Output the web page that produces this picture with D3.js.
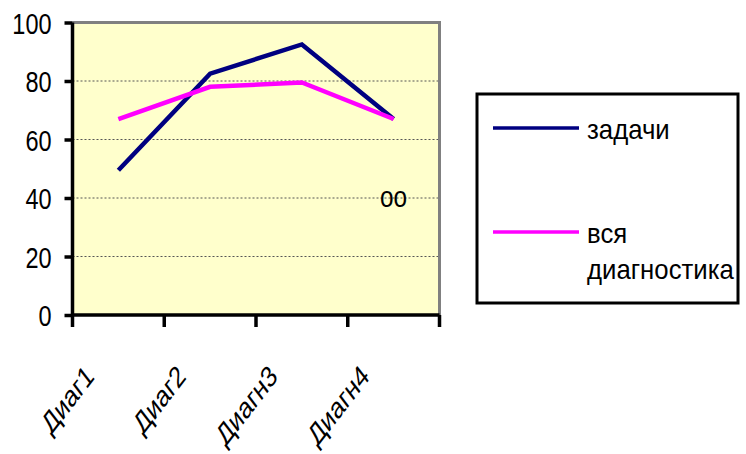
<!DOCTYPE html>
<html>
<head>
<meta charset="utf-8">
<script src="https://cdn.jsdelivr.net/npm/d3@7"></script>
<style>
  html, body { margin: 0; padding: 0; background: #fff; }
  svg { display: block; }
  text { font-family: "Liberation Sans", Arial, sans-serif; fill: #000; }
</style>
</head>
<body>
<svg id="chart" width="746" height="454"></svg>
<script>
// ---- data ----
const categories = ["Диаг1", "Диаг2", "Диагн3", "Диагн4"];
const seriesNames = ["задачи", "вся диагностика"];
const seriesTasks = [49.5, 82.5, 92.5, 67];
const seriesAll = [67, 78, 79.5, 67];
const yTicks = [0, 20, 40, 60, 80, 100];
const annotationText = "оо";
const annotationCategory = "Диагн4";
const annotationValue = 40;

const seriesColors = ["#000080", "#FF00FF"];
const seriesValues = [seriesTasks, seriesAll];

// ---- layout ----
const svg = d3.select("#chart");
const plot = { left: 72.5, right: 439.5, top: 22.5, bottom: 315 };
const kTick = 0.81, kLabel = 0.77, kLegend = 0.92, kNote = 0.84;

const x = d3.scaleBand().domain(categories).range([plot.left, plot.right]).padding(0);
const y = d3.scaleLinear().domain([0, 100]).range([plot.bottom, plot.top]);

// plot background
svg.append("rect")
  .attr("x", plot.left).attr("y", plot.top)
  .attr("width", plot.right - plot.left).attr("height", plot.bottom - plot.top)
  .attr("fill", "#FFFFCC");

// gridlines
svg.append("g").selectAll("line")
  .data(yTicks.filter(t => t > 0 && t < 100))
  .join("line")
  .attr("x1", plot.left).attr("x2", plot.right)
  .attr("y1", d => y(d)).attr("y2", d => y(d))
  .attr("stroke", "#555").attr("stroke-width", 1).attr("stroke-dasharray", "2,2");

// gray plot border top & right
svg.append("path")
  .attr("d", `M${plot.left},${plot.top}H${plot.right}V${plot.bottom}`)
  .attr("fill", "none").attr("stroke", "#808080").attr("stroke-width", 3);

// series lines
const line = d3.line()
  .x((d, i) => x(categories[i]) + x.bandwidth() / 2)
  .y(d => y(d));
seriesValues.forEach((vals, si) => {
  svg.append("path")
    .datum(vals)
    .attr("d", line)
    .attr("fill", "none")
    .attr("stroke", seriesColors[si])
    .attr("stroke-width", 4.5)
    .attr("stroke-linejoin", "miter");
});

// annotation
svg.append("text")
  .attr("transform", `translate(${x(annotationCategory) + x.bandwidth() / 2},${y(annotationValue)}) scale(${kNote},1)`)
  .attr("text-anchor", "middle")
  .attr("dy", "0.3em")
  .attr("font-size", 29)
  .text(annotationText);

// y axis
const yAxis = svg.append("g")
  .attr("transform", `translate(${plot.left},0)`)
  .call(d3.axisLeft(y).tickValues(yTicks).tickSize(8).tickPadding(13).tickFormat(d3.format("d")));
yAxis.select(".domain").attr("stroke", "#000").attr("stroke-width", 3.5)
  .attr("d", `M0,${plot.top}V${plot.bottom}`);
yAxis.selectAll(".tick line").attr("stroke", "#000").attr("stroke-width", 3.5);
yAxis.selectAll(".tick text")
  .attr("font-size", 29)
  .attr("font-family", "Liberation Sans, Arial, sans-serif")
  .attr("x", -21 / kTick)
  .attr("dy", "0.37em")
  .attr("transform", `scale(${kTick},1)`);

// x axis (ticks at category boundaries)
const xg = svg.append("g");
xg.append("line")
  .attr("x1", plot.left).attr("x2", plot.right)
  .attr("y1", plot.bottom).attr("y2", plot.bottom)
  .attr("stroke", "#000").attr("stroke-width", 3.5);
const boundaries = categories.map(c => x(c)).concat([x.range()[1]]);
xg.selectAll("line.tk")
  .data(boundaries)
  .join("line")
  .attr("class", "tk")
  .attr("x1", d => d).attr("x2", d => d)
  .attr("y1", plot.bottom).attr("y2", plot.bottom + 12)
  .attr("stroke", "#000").attr("stroke-width", 3.5);
xg.selectAll("text")
  .data(categories)
  .join("text")
  .attr("transform", d => `translate(${x(d) + x.bandwidth() / 2 - 23},378) scale(${kLabel},1) rotate(-45)`)
  .attr("text-anchor", "end")
  .attr("font-size", 30)
  .text(d => d);

// legend
const legend = svg.append("g");
legend.append("rect")
  .attr("x", 477).attr("y", 94).attr("width", 261).attr("height", 209)
  .attr("fill", "#fff").attr("stroke", "#000").attr("stroke-width", 3);
const itemY = [128, 232];
seriesNames.forEach((name, i) => {
  legend.append("line")
    .attr("x1", 493).attr("x2", 579)
    .attr("y1", itemY[i]).attr("y2", itemY[i])
    .attr("stroke", seriesColors[i]).attr("stroke-width", 3.5);
  const t = legend.append("text")
    .attr("transform", `translate(587,${itemY[i] + 11}) scale(${kLegend},1)`)
    .attr("font-size", 28);
  name.split(" ").forEach((w, j) => {
    t.append("tspan").attr("x", 0).attr("dy", j === 0 ? 0 : 36).text(w);
  });
});
</script>
</body>
</html>
